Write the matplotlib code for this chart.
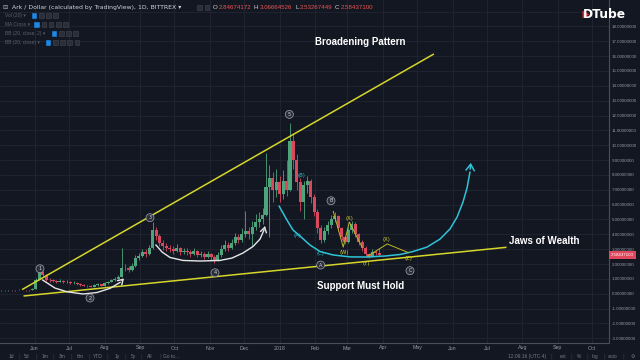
import numpy as np
import pandas as pd
import matplotlib
matplotlib.use('Agg')
import matplotlib.pyplot as plt
import matplotlib.dates as mdates
from matplotlib.patches import Rectangle
from matplotlib.transforms import blended_transform_factory

# ---------------- data ----------------
start_date = '2017-05-03'          # first 3-day candle
first_open = 0.24
closes = [0.24, 0.22, 0.25, 0.23, 0.24, 0.26, 0.24, 0.22, 0.25, 0.32,
          0.95, 1.45, 1.25, 0.95, 0.90, 0.85, 0.80, 0.88, 0.76, 0.82,
          0.70, 0.74, 0.66, 0.60, 0.55, 0.50, 0.48, 0.56, 0.62, 0.55,
          0.70, 0.80, 0.92, 1.00, 1.12, 1.75, 1.70, 1.60, 1.85, 2.40,
          2.55, 2.80, 2.70, 3.05, 4.30, 3.90, 3.40, 3.20, 3.10, 3.00,
          2.90, 3.05, 2.80, 2.90, 2.80, 2.70, 2.85, 2.60, 2.70, 2.50,
          2.65, 2.50, 2.30, 2.60, 3.00, 3.30, 3.10, 3.40, 3.80, 3.60,
          4.00, 4.20, 4.00, 4.50, 4.80, 5.00, 5.30, 7.20, 7.80, 7.00,
          7.50, 6.70, 7.60, 7.00, 10.30, 9.00, 7.50, 6.20, 7.30, 7.60,
          6.50, 5.50, 4.40, 3.60, 4.20, 4.60, 5.00, 5.20, 4.40, 3.80,
          3.50, 4.30, 4.70, 4.00, 3.50, 3.10, 2.70, 2.50, 2.80, 2.75,
          2.58]
highs = [0.27, 0.26, 0.27, 0.27, 0.26, 0.29, 0.28, 0.26, 0.28, 0.38,
         1.05, 1.65, 1.55, 1.30, 1.05, 0.98, 0.92, 0.98, 0.92, 0.92,
         0.86, 0.84, 0.78, 0.70, 0.64, 0.60, 0.56, 0.64, 0.70, 0.66,
         0.76, 0.88, 1.00, 1.10, 1.25, 3.10, 2.00, 1.85, 2.05, 2.60,
         2.75, 3.00, 3.00, 3.30, 4.85, 4.50, 4.00, 3.60, 3.40, 3.30,
         3.20, 3.35, 3.15, 3.10, 3.05, 2.95, 3.05, 2.95, 2.90, 2.80,
         2.85, 2.75, 2.60, 2.80, 3.25, 3.60, 3.50, 3.70, 4.10, 4.00,
         4.40, 5.60, 4.50, 4.90, 5.40, 5.50, 5.80, 9.50, 8.70, 8.20,
         8.40, 7.90, 8.30, 9.00, 11.50, 10.80, 9.40, 7.80, 7.60, 7.90,
         7.70, 6.70, 5.70, 4.60, 4.50, 4.90, 5.30, 5.50, 5.30, 4.50,
         3.90, 4.50, 4.90, 4.80, 4.10, 3.60, 3.20, 2.75, 3.00, 2.95,
         3.07]
lows = [0.21, 0.20, 0.21, 0.21, 0.21, 0.22, 0.22, 0.20, 0.21, 0.23,
        0.30, 0.90, 1.10, 0.88, 0.82, 0.78, 0.74, 0.76, 0.70, 0.72,
        0.64, 0.66, 0.60, 0.54, 0.50, 0.45, 0.42, 0.46, 0.52, 0.50,
        0.53, 0.66, 0.76, 0.86, 0.96, 1.10, 1.55, 1.48, 1.55, 1.80,
        2.25, 2.45, 2.50, 2.60, 3.00, 3.60, 3.20, 2.95, 2.90, 2.80,
        2.70, 2.80, 2.60, 2.65, 2.60, 2.50, 2.60, 2.45, 2.45, 2.35,
        2.40, 2.30, 2.10, 2.20, 2.50, 2.90, 2.90, 3.00, 3.30, 3.40,
        3.50, 3.80, 3.70, 3.20, 4.30, 4.50, 4.70, 5.20, 3.80, 6.20,
        6.50, 6.20, 6.40, 6.60, 6.90, 8.40, 7.00, 5.60, 5.00, 6.80,
        6.10, 5.20, 4.10, 3.40, 3.50, 4.00, 4.40, 4.80, 4.20, 3.60,
        3.35, 3.40, 4.10, 3.80, 3.30, 2.90, 2.55, 2.40, 2.45, 2.60,
        2.53]
last_price = 2.58437100

price_ticks = list(range(-3, 19))
month_labels = ['Jun', 'Jul', 'Aug', 'Sep', 'Oct', 'Nov', 'Dec', '2018', 'Feb',
                'Mar', 'Apr', 'May', 'Jun', 'Jul', 'Aug', 'Sep', 'Oct']
month_starts = pd.date_range('2017-06-01', '2018-10-01', freq='MS')

# drawings: days after anchor date, price
anchor = '2017-06-01'
upper_line_days = [-10.5, 348.1]
upper_line_prices = [0.30, 16.12]
lower_line_days = [-9.1, 411.4]
lower_line_prices = [-0.15, 3.12]
cyan_days = [213.4, 220.3, 225.6, 230.8, 240.4, 249.2, 260.5, 275.4, 290.2, 306.0,
             319.1, 330.4, 342.7, 354.0, 362.7, 368.9, 374.1, 377.6, 380.2, 381.1]
cyan_prices = [5.91, 4.96, 4.29, 3.95, 3.28, 2.84, 2.61, 2.48, 2.47, 2.54,
               2.64, 2.84, 3.14, 3.68, 4.36, 5.16, 6.18, 7.12, 8.20, 9.00]
arc1_days = [7.0, 17.7, 28.2, 42.2, 54.4, 65.8, 74.5, 79.7]
arc1_prices = [0.92, 0.38, 0.13, -0.02, 0.08, 0.36, 0.76, 1.16]
arc2_days = [105.9, 111.2, 118.2, 129.5, 144.4, 161.8, 172.3, 181.9, 190.7, 196.8, 200.3, 201.7]
arc2_prices = [3.28, 2.81, 2.44, 2.24, 2.20, 2.24, 2.40, 2.74, 3.18, 3.68, 4.29, 4.73]
zig1_days = [260.8, 269.5, 274.8, 285.9]
zig1_prices = [5.54, 3.14, 4.83, 3.14]
zig2_days = [291.1, 307.9, 326.3]
zig2_prices = [2.54, 3.35, 2.77]

circle_labels = ['1', '2', '3', '4', '5', 'B', 'A', 'C']
circle_days = [4.6, 48.3, 100.7, 157.5, 222.4, 258.8, 249.8, 327.8]
circle_prices = [1.68, -0.29, 5.12, 1.41, 12.08, 6.26, 1.93, 1.55]
cyan_labels = ['(B)', '(A)', '(C)']
cyan_label_days = [233.2, 229.3, 249.8]
cyan_label_prices = [7.97, 3.95, 2.72]
yel_labels = ['(X)', '(W)', '(Y)', '(X)', '(Z)']
yel_label_days = [274.5, 270.1, 290.0, 307.4, 326.3]
yel_label_prices = [5.08, 2.76, 2.05, 3.66, 2.38]

# ---------------- styling ----------------
BG = '#131722'
GRID = '#222633'
UP = '#4fa57b'
DOWN = '#d9495e'
YEL = '#d6d62a'
CYAN = '#2fc3d6'
WHITE = '#e6e6e6'
AXTXT = '#9598a1'
NARROW = 'Liberation Sans'
NARROW_FB = ['Liberation Sans', 'DejaVu Sans']

fig = plt.figure(figsize=(6.4, 3.6), dpi=100, facecolor=BG)
ax = fig.add_axes([0, 17 / 360, 609 / 640, 343 / 360], facecolor=BG)

a0 = mdates.date2num(pd.Timestamp(anchor))
def X(days):
    return a0 + np.asarray(days, dtype=float)

ax.set_xlim(a0 - 30.3, a0 + 501.6)
ax.set_ylim(-3.32, 19.78)

# grid
for p in range(-3, 20):
    ax.axhline(p, color=GRID, lw=0.6, zorder=0)
for m in month_starts:
    ax.axvline(mdates.date2num(m), color=GRID, lw=0.6, zorder=0)

# candles
dates = pd.date_range(start_date, periods=len(closes), freq='3D')
xc = mdates.date2num(dates)
opens = [first_open] + closes[:-1]
for x, o, c, h, l in zip(xc, opens, closes, highs, lows):
    col = UP if c >= o else DOWN
    ax.vlines(x, l, h, color=col, lw=0.6, zorder=2)
    ax.bar(x, max(abs(c - o), 0.04), bottom=min(o, c), width=2.7, color=col,
           lw=0, zorder=3)

# trend lines
ax.plot(X(upper_line_days), upper_line_prices, color=YEL, lw=1.1, zorder=4)
ax.plot(X(lower_line_days), lower_line_prices, color=YEL, lw=1.1, zorder=4)
# cyan curve
ax.plot(X(cyan_days[:-1]), cyan_prices[:-1], color=CYAN, lw=1.1, zorder=4,
        solid_capstyle='round')
ax.annotate('', xy=(X(cyan_days[-1]), cyan_prices[-1]),
            xytext=(X(cyan_days[-2]), cyan_prices[-2]),
            arrowprops=dict(arrowstyle='->,head_length=0.45,head_width=0.3',
                            color=CYAN, lw=1.1), zorder=4)
# white arcs
for dd, pp in [(arc1_days, arc1_prices), (arc2_days, arc2_prices)]:
    ax.plot(X(dd[:-1]), pp[:-1], color=WHITE, lw=1.0, zorder=4)
    ax.annotate('', xy=(X(dd[-1]), pp[-1]), xytext=(X(dd[-2]), pp[-2]),
                arrowprops=dict(arrowstyle='->,head_length=0.35,head_width=0.22',
                                color=WHITE, lw=1.0), zorder=4)
# zigzags
ax.plot(X(zig1_days), zig1_prices, color='#b9b92a', lw=0.7, zorder=4)
ax.plot(X(zig2_days), zig2_prices, color='#b9b92a', lw=0.7, zorder=4)

# wave labels
for s, d, p in zip(circle_labels, circle_days, circle_prices):
    ax.text(X(d), p, s, ha='center', va='center', fontsize=3.6, color='#d1d4dc',
            zorder=6, bbox=dict(boxstyle='circle,pad=0.3', fc='#2a2e39',
                                ec='#a3a6af', lw=0.5))
for s, d, p in zip(cyan_labels, cyan_label_days, cyan_label_prices):
    ax.text(X(d), p, s, ha='center', va='center', fontsize=3.8, color=CYAN, zorder=6)
for s, d, p in zip(yel_labels, yel_label_days, yel_label_prices):
    ax.text(X(d), p, s, ha='center', va='center', fontsize=3.8, color=YEL, zorder=6)

# annotations
ax.text(X(284.1), 16.92, 'Broadening Pattern', ha='center', va='center',
        fontsize=7.0, fontweight='bold', color='white', family=NARROW, zorder=6)
ax.text(X(285.0), 0.52, 'Support Must Hold', ha='center', va='center',
        fontsize=7.0, fontweight='bold', color='white', family=NARROW, zorder=6)
ax.text(X(414.2), 3.57, 'Jaws of Wealth', ha='left', va='center',
        fontsize=7.0, fontweight='bold', color='white', family=NARROW, zorder=6)

# axes
for s in ['top', 'left']:
    ax.spines[s].set_visible(False)
for s in ['right', 'bottom']:
    ax.spines[s].set_color('#4a4e5a')
    ax.spines[s].set_linewidth(0.8)
ax.yaxis.tick_right()
ax.set_yticks(price_ticks)
ax.set_yticklabels(['%.8f' % v for v in price_ticks], family=NARROW)
ax.set_xticks(mdates.date2num(month_starts))
ax.set_xticklabels(month_labels, family=NARROW)
ax.tick_params(axis='both', length=0, colors=AXTXT)
ax.tick_params(axis='y', pad=1.8, labelsize=3.2)
ax.tick_params(axis='x', pad=1.8, labelsize=3.8)

# last price tag
tr = blended_transform_factory(ax.transAxes, ax.transData)
ax.text(1.003, last_price, '%.8f' % last_price, transform=tr, ha='left', va='center',
        fontsize=3.2, color='white', clip_on=False, zorder=7, family=NARROW,
        bbox=dict(boxstyle='square,pad=0.45', fc='#e0475c', ec='none'))

# ---------------- header / chrome ----------------
def F(px, py):
    return px / 640, 1 - py / 360

def btn(px, py, blue=False):
    fig.add_artist(Rectangle((px / 640, 1 - (py + 2.4) / 360), 4.6 / 640, 4.8 / 360,
                             transform=fig.transFigure,
                             fc='#1e88e5' if blue else '#2a2e39',
                             ec='#1e88e5' if blue else '#434651', lw=0.4))

fig.text(*F(2, 7.5), '\u229f', fontsize=4.5, color='#b2b5be', va='center')
fig.text(*F(12.5, 7.5), 'Ark / Dollar (calculated by TradingView), 1D, BITTREX \u25be',
         fontsize=4.4, color='#d1d4dc', va='center')
btn(197, 7.5)
btn(204.5, 7.5)
ohlc = [('O', 213, '2.84674172', 218.5), ('H', 254, '3.06664526', 259.5),
        ('L', 295, '2.53267449', 299.5), ('C', 335, '2.58437100', 340.5)]
for k, kx, v, vx in ohlc:
    fig.text(*F(kx, 7.5), k, fontsize=4.4, color='#d1d4dc', va='center', family=NARROW)
    fig.text(*F(vx, 7.5), v, fontsize=4.4, color='#ef5350', va='center', family=NARROW)

ind = [('Vol (20) \u25be', 15.7, 31.7, 4), ('MA Cross \u25be', 24.7, 34.3, 5),
       ('BB (20, close, 2) \u25be', 33.3, 51.7, 4), ('BB (20, close) \u25be', 42.3, 45.7, 5)]
for name, py, bx, nb in ind:
    fig.text(*F(5, py), name, fontsize=3.5, color='#5d606b', va='center', family=NARROW_FB)
    for j in range(nb):
        btn(bx + j * 7.2, py, blue=(j == 0))

# DTube logo
fig.text(*F(583, 14.5), 'DTube', fontsize=8.8, fontweight='bold', color='white',
         va='center', ha='left')
fig.add_artist(plt.Polygon([F(582.5, 10.5), F(589.5, 14.5), F(582.5, 18.5)], closed=True,
                           transform=fig.transFigure, fc='#e3262b', ec='none'))

# bottom toolbar
tb = [('1d', 11), ('5d', 27), ('1m', 45), ('3m', 62), ('6m', 80), ('YTD', 98),
      ('1y', 117), ('5y', 133), ('All', 150), ('Go to...', 171)]
for i, (s, px) in enumerate(tb):
    fig.text(*F(px, 356.5), s, fontsize=3.5, color='#787b86', va='center', ha='center',
             family=NARROW)
    if i < len(tb) - 1:
        fig.text(*F((px + tb[i + 1][1]) / 2, 356.5), '|', fontsize=3.5,
                 color='#434651', va='center', ha='center')
tr_items = [('12:09:16 (UTC-4)', 527), ('ext', 563), ('%', 579), ('log', 595),
            ('auto', 613), ('\u2699', 633)]
for i, (s, px) in enumerate(tr_items):
    fig.text(*F(px, 356.5), s, fontsize=3.5, color='#787b86', va='center', ha='center',
             family=NARROW_FB)
    if i < len(tr_items) - 1:
        fig.text(*F((px + tr_items[i + 1][1]) / 2 + (6 if i == 0 else 0), 356.5), '|',
                 fontsize=3.5, color='#434651', va='center', ha='center')

fig.savefig('out.png', dpi=100, facecolor=BG)
